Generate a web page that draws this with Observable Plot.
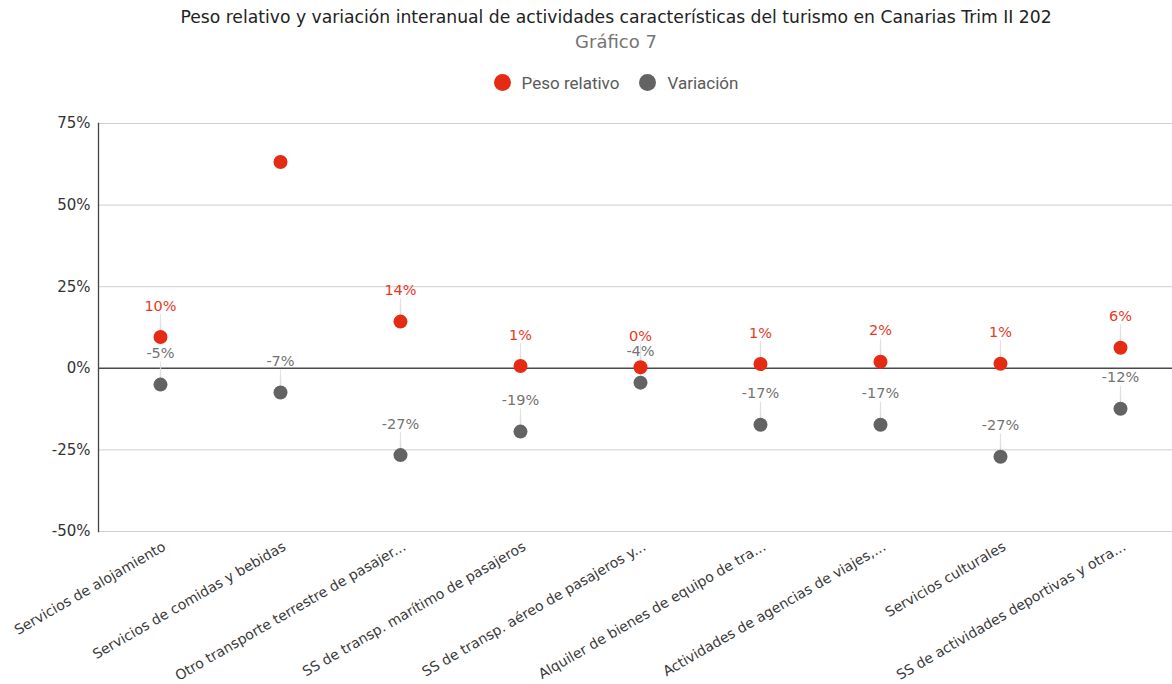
<!DOCTYPE html>
<html>
<head>
<meta charset="utf-8">
<script src="https://cdn.jsdelivr.net/npm/d3@7"></script>
<script src="https://cdn.jsdelivr.net/npm/@observablehq/plot@0.6"></script>
<style>
  body { margin: 0; background: #fff; }
  #wrap { width: 1172px; height: 684px; position: relative; overflow: hidden; }
  .hd { position: absolute; left: 60px; right: 0; text-align: center; white-space: nowrap; }
  #title { top: 7px; font-family: "DejaVu Sans", sans-serif; font-size: 17.2px; color: #222; }
  #subtitle { top: 31px; font-family: "DejaVu Sans", sans-serif; font-size: 18px; color: #757575; }
  #legend { top: 73px; font-family: Roboto, sans-serif; font-size: 17px; color: #5a5a5a; }
  .sw { display: inline-block; width: 17px; height: 17px; border-radius: 50%; vertical-align: -2px; margin-right: 11px; }
  .item { display: inline-block; margin: 0 10px; }
  #chart { position: absolute; top: 100px; left: 0; }
  #chart svg g[aria-label="x-axis tick label"] text { font-family: "DejaVu Sans", sans-serif; }
  #chart svg g[aria-label="y-axis tick label"] text { font-family: "DejaVu Sans", sans-serif; }
</style>
</head>
<body>
<div id="wrap">
  <div class="hd" id="title">Peso relativo y variación interanual de actividades características del turismo en Canarias Trim II 202</div>
  <div class="hd" id="subtitle">Gráfico 7</div>
  <div class="hd" id="legend"></div>
  <div id="chart"></div>
</div>
<script>
const categories = [
  "Servicios de alojamiento",
  "Servicios de comidas y bebidas",
  "Otro transporte terrestre de pasajer...",
  "SS de transp. marítimo de pasajeros",
  "SS de transp. aéreo de pasajeros y...",
  "Alquiler de bienes de equipo de tra...",
  "Actividades de agencias de viajes,...",
  "Servicios culturales",
  "SS de actividades deportivas y otra..."
];
const pesoRelativo = [9.6, 63.2, 14.3, 0.7, 0.3, 1.3, 2.0, 1.4, 6.3];
const variacion = [-5.0, -7.4, -26.6, -19.4, -4.4, -17.3, -17.3, -27.1, -12.4];
const pesoLabelShown = [true, false, true, true, true, true, true, true, true];
const yTicks = [-50, -25, 0, 25, 50, 75];
const seriesNames = ["Peso relativo", "Variación"];
const seriesColors = ["#e52b13", "#636363"];
const labelColors = ["#e8391f", "#737373"];

const peso = categories.map((c, i) => ({cat: c, value: pesoRelativo[i], show: pesoLabelShown[i]}));
const vari = categories.map((c, i) => ({cat: c, value: variacion[i], show: true}));
const fmt = d => Math.round(d.value) + "%";

document.getElementById("legend").innerHTML = seriesNames.map((n, i) =>
  `<span class="item"><span class="sw" style="background:${seriesColors[i]}"></span>${n}</span>`).join("");

function seriesMarks(data, color, lcolor) {
  const lab = data.filter(d => d.show);
  return [
    Plot.vector(lab, {x: "cat", y: "value", length: 16, rotate: 0, anchor: "start", dy: -7,
      shape: "spike", r: 0.5, fill: "#dcdcdc", stroke: "#dcdcdc", strokeWidth: 0.6}),
    Plot.text(lab, {x: "cat", y: "value", text: fmt, dy: -31, fill: lcolor, fontSize: 14.5, fontFamily: "DejaVu Sans"}),
    Plot.dot(data, {x: "cat", y: "value", r: 7, fill: color, stroke: null})
  ];
}

const chart = Plot.plot({
  width: 1172,
  height: 584,
  marginTop: 23,
  marginBottom: 153,
  marginLeft: 98,
  marginRight: 0,
  x: {type: "point", domain: categories, padding: 0.456, align: 0.545},
  y: {domain: [-50, 75]},
  marks: [
    Plot.ruleY(yTicks.filter(t => t !== 0), {stroke: "#cfcfcf", strokeWidth: 1}),
    Plot.ruleY([0], {stroke: "#4a4a4a", strokeWidth: 1.5}),
    Plot.frame({anchor: "left", stroke: "#444", strokeWidth: 1.3}),
    Plot.axisY({ticks: yTicks, tickFormat: d => d + "%", tickSize: 0, tickPadding: 8, fontSize: 15, fontFamily: "DejaVu Sans", fill: "#333", label: null}),
    Plot.axisX({tickSize: 0, tickRotate: -30, tickPadding: 14, dx: 4, fontSize: 14, fontFamily: "DejaVu Sans", fill: "#3a3a3a", label: null}),
    ...seriesMarks(vari, seriesColors[1], labelColors[1]),
    ...seriesMarks(peso, seriesColors[0], labelColors[0])
  ]
});
document.getElementById("chart").appendChild(chart);
</script>
</body>
</html>
